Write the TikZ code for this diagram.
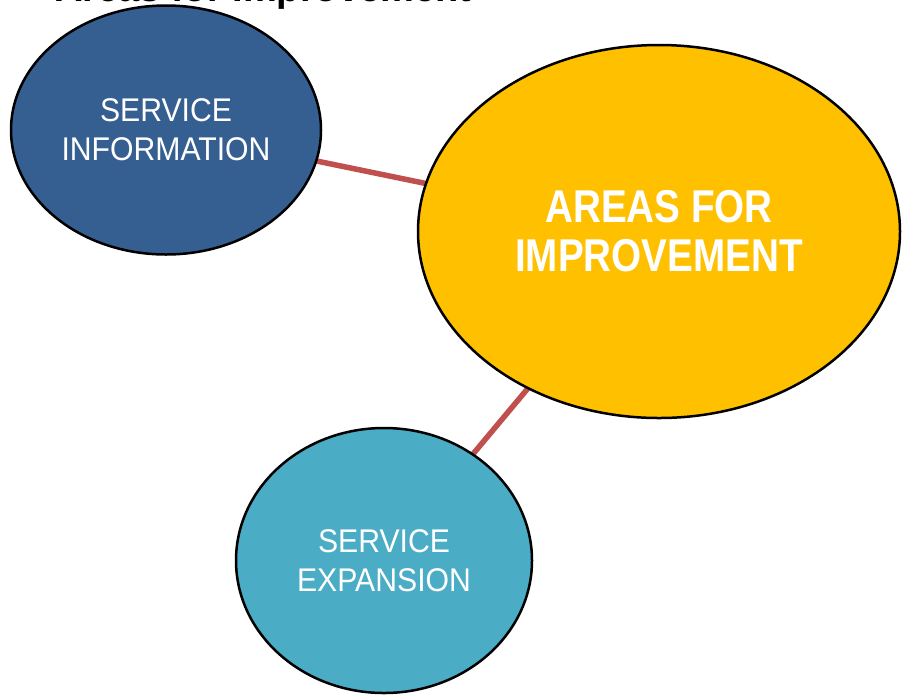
\documentclass[tikz,border=0pt]{standalone}
\usepackage{fontspec}
\setmainfont{Liberation Sans}
\newfontfamily\narrowreg[FakeStretch=0.92]{Liberation Sans}
\newfontfamily\narrowbold[FakeStretch=0.84]{Liberation Sans}
\usetikzlibrary{shapes.geometric,backgrounds}
\definecolor{siblue}{HTML}{365F91}
\definecolor{aiyellow}{HTML}{FFC000}
\definecolor{seteal}{HTML}{4BACC6}
\definecolor{linkred}{HTML}{C0504D}
\tikzset{
  bubble/.style={ellipse, draw=black, line width=2.5pt, inner sep=0pt,
    text=white, align=center},
  smalltext/.style={font={\narrowreg\fontsize{32.8}{39}\selectfont}},
  bigtext/.style={font={\narrowbold\bfseries\fontsize{46}{49}\selectfont}},
  link/.style={draw=linkred, line width=5.5pt},
  titletext/.style={font={\bfseries\fontsize{38}{44}\selectfont}, anchor=base west, inner sep=0pt}
}
\begin{document}
\begin{tikzpicture}[x=1pt,y=-1pt]
\useasboundingbox (0,0) rectangle (909,694);
\node[titletext] (title) at (55,1) {Areas for Improvement};
\node[bubble, smalltext, fill=siblue, minimum width=310pt, minimum height=249pt] (si) at (166,130) {SERVICE\\INFORMATION};
\node[bubble, bigtext, fill=aiyellow, minimum width=482pt, minimum height=373pt] (ai) at (659,231.5) {AREAS FOR\\IMPROVEMENT};
\node[bubble, smalltext, fill=seteal, minimum width=296pt, minimum height=265pt] (se) at (384,560.5) {SERVICE\\EXPANSION};
\begin{scope}[on background layer]
\fill[white] (0,0) rectangle (909,694);
\draw[link] (si.center) -- (ai.center);
\draw[link] (se.center) -- (ai.center);
\end{scope}
\end{tikzpicture}
\end{document}
